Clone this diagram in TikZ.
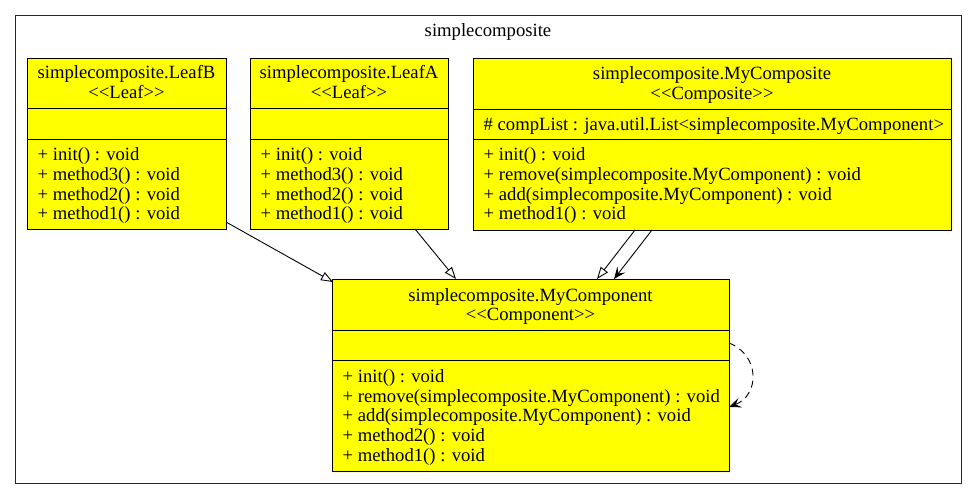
\documentclass[tikz,border=0pt]{standalone}
\usepackage{fontspec}
\setmainfont{Liberation Serif}
\usetikzlibrary{arrows.meta}
\definecolor{umlyellow}{RGB}{255,255,0}
\newcommand{\stereo}[1]{<\kern0pt<#1>\kern0pt>}
\begin{document}
\begin{tikzpicture}[x=1pt,y=-1pt,
  cls/.style={draw=black, fill=umlyellow, line width=1pt, inner sep=0pt, outer sep=0pt, anchor=north west},
  frame/.style={draw=black!85, line width=1pt, inner sep=0pt, outer sep=0pt, anchor=north west},
  txt/.style={anchor=base, inner sep=0pt, font=\fontsize{18.67}{20}\selectfont},
  ltxt/.style={txt, anchor=base west},
  divider/.style={line width=1pt},
  gen/.style={line width=0.9pt, -{Triangle[open,length=12pt,width=9pt]}},
  assoc/.style={line width=0.9pt, -{Stealth[length=12pt,width=10pt,inset=5pt]}},
  dep/.style={assoc, dash pattern=on 7pt off 5pt}]
\useasboundingbox (0,0) rectangle (977,499);
% package frame
\node[frame, minimum width=946pt, minimum height=468pt] (pkg) at (15,15) {};
\node[txt] (pkgt) at (488,36) {simplecomposite};

% LeafB
\node[cls, minimum width=199pt, minimum height=171pt] (leafb) at (27,58) {};
\draw[divider] (leafb.west |- 0,108) -- (leafb.east |- 0,108);
\draw[divider] (leafb.west |- 0,139) -- (leafb.east |- 0,139);
\node[txt] (leafb1) at (126.5,78) {simplecomposite.LeafB};
\node[txt] (leafb2) at (126.5,98) {\stereo{Leaf}};
\node[ltxt] (leafb3) at (37.5,160) {+ init() : void};
\node[ltxt] (leafb4) at (37.5,180) {+ method3() : void};
\node[ltxt] (leafb5) at (37.5,200) {+ method2() : void};
\node[ltxt] (leafb6) at (37.5,219) {+ method1() : void};

% LeafA
\node[cls, minimum width=198pt, minimum height=171pt] (leafa) at (250,58) {};
\draw[divider] (leafa.west |- 0,108) -- (leafa.east |- 0,108);
\draw[divider] (leafa.west |- 0,139) -- (leafa.east |- 0,139);
\node[txt] (leafa1) at (349,78) {simplecomposite.LeafA};
\node[txt] (leafa2) at (349,98) {\stereo{Leaf}};
\node[ltxt] (leafa3) at (260.5,160) {+ init() : void};
\node[ltxt] (leafa4) at (260.5,180) {+ method3() : void};
\node[ltxt] (leafa5) at (260.5,200) {+ method2() : void};
\node[ltxt] (leafa6) at (260.5,219) {+ method1() : void};

% MyComposite
\node[cls, minimum width=478pt, minimum height=172pt] (compo) at (473,58) {};
\draw[divider] (compo.west |- 0,109) -- (compo.east |- 0,109);
\draw[divider] (compo.west |- 0,139) -- (compo.east |- 0,139);
\node[txt] (compo1) at (712,79) {simplecomposite.MyComposite};
\node[txt] (compo2) at (712,99) {\stereo{Composite}};
\node[ltxt] (compo3) at (483.5,130) {\# compList : java.util.List<simplecomposite.MyComponent>};
\node[ltxt] (compo4) at (483.5,160) {+ init() : void};
\node[ltxt] (compo5) at (483.5,180) {+ remove(simplecomposite.MyComponent) : void};
\node[ltxt] (compo6) at (483.5,200) {+ add(simplecomposite.MyComponent) : void};
\node[ltxt] (compo7) at (483.5,219) {+ method1() : void};

% MyComponent
\node[cls, minimum width=397pt, minimum height=192pt] (comp) at (332,279) {};
\draw[divider] (comp.west |- 0,330) -- (comp.east |- 0,330);
\draw[divider] (comp.west |- 0,360) -- (comp.east |- 0,360);
\node[txt] (comp1) at (530.5,301) {simplecomposite.MyComponent};
\node[txt] (comp2) at (530.5,320) {\stereo{Component}};
\node[ltxt] (comp3) at (342.5,382) {+ init() : void};
\node[ltxt] (comp4) at (342.5,402) {+ remove(simplecomposite.MyComponent) : void};
\node[ltxt] (comp5) at (342.5,421) {+ add(simplecomposite.MyComponent) : void};
\node[ltxt] (comp6) at (342.5,441) {+ method2() : void};
\node[ltxt] (comp7) at (342.5,461) {+ method1() : void};

% connectors
\draw[gen] ([shift={(0,-7)}]leafb.south east) -- ([shift={(1,3)}]comp.north west);
\draw[gen] ([shift={(-33,0)}]leafa.south east) -- ([shift={(124,0)}]comp.north west);
\draw[gen] ([shift={(162,0)}]compo.south west) -- ([shift={(265,0)}]comp.north west);
\draw[assoc] ([shift={(179,0)}]compo.south west) -- ([shift={(282,0)}]comp.north west);
\draw[dep] ([shift={(0,64)}]comp.north east) .. controls +(31,12) and +(31,-12) .. ([shift={(0,128)}]comp.north east);
\end{tikzpicture}
\end{document}
